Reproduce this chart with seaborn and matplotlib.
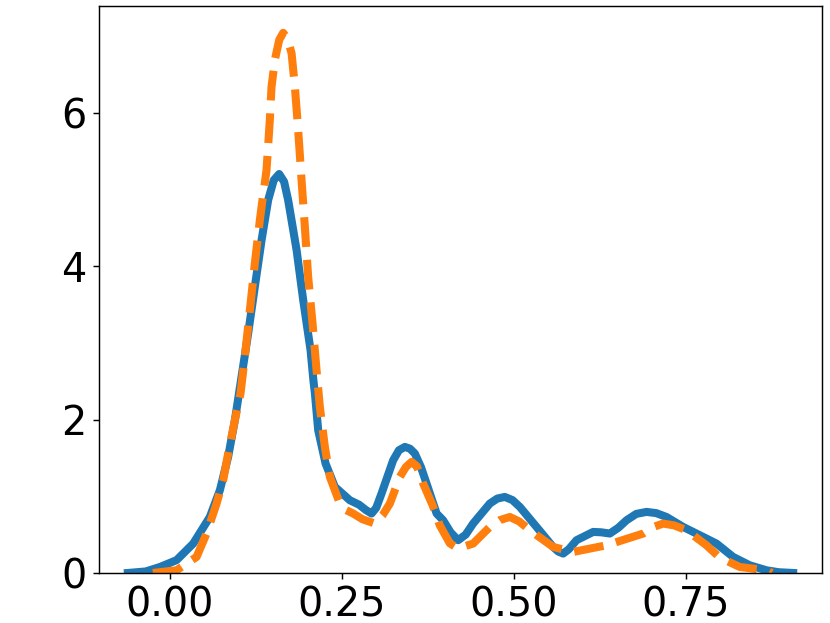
import seaborn as sns
import matplotlib
matplotlib.use("Agg")
import matplotlib.pyplot as plt

# density curves
blue_x = [-0.061, -0.035, -0.0145, 0.0097, 0.0339, 0.0581, 0.0727, 0.0847, 0.0945, 0.1042,
          0.1138, 0.1235, 0.1333, 0.1429, 0.1510, 0.1589, 0.1660, 0.1719, 0.1842, 0.1938,
          0.2045, 0.2086, 0.2108, 0.2156, 0.2263, 0.2398, 0.2616, 0.2750, 0.2850, 0.2932,
          0.3000, 0.3077, 0.3246, 0.3330, 0.3416, 0.3490, 0.3561, 0.3650, 0.3731, 0.3877,
          0.3972, 0.4080, 0.4190, 0.4300, 0.4408, 0.4651, 0.4760, 0.4869, 0.4980, 0.5087,
          0.5330, 0.5571, 0.5645, 0.5717, 0.5800, 0.5911, 0.6153, 0.6270, 0.6395, 0.6520,
          0.6638, 0.6780, 0.6929, 0.7070, 0.7219, 0.7461, 0.7703, 0.7946, 0.8188, 0.8430,
          0.8673, 0.8850, 0.906]
blue_y = [0.0, 0.020, 0.078, 0.167, 0.383, 0.730, 1.079, 1.513, 1.992, 2.560,
          3.122, 3.730, 4.339, 4.861, 5.120, 5.200, 5.100, 4.861, 4.209, 3.557,
          2.904, 2.513, 2.344, 1.861, 1.427, 1.122, 0.948, 0.890, 0.820, 0.775,
          0.850, 1.036, 1.470, 1.600, 1.643, 1.620, 1.557, 1.380, 1.166, 0.775,
          0.687, 0.530, 0.427, 0.500, 0.644, 0.905, 0.970, 0.991, 0.950, 0.861,
          0.600, 0.339, 0.280, 0.253, 0.310, 0.427, 0.535, 0.530, 0.514, 0.590,
          0.687, 0.770, 0.796, 0.780, 0.730, 0.600, 0.492, 0.383, 0.209, 0.100,
          0.035, 0.010, 0.0]

orange_x = [-0.0247, 0.0097, 0.0388, 0.0533, 0.0679, 0.0775, 0.0847, 0.0945, 0.1027, 0.1090,
            0.1163, 0.1235, 0.1308, 0.1333, 0.1405, 0.1453, 0.1478, 0.1526, 0.1590, 0.1647,
            0.1710, 0.1769, 0.1817, 0.1865, 0.1914, 0.1962, 0.2010, 0.2074, 0.2132, 0.2180,
            0.2253, 0.2326, 0.2471, 0.2560, 0.2664, 0.2800, 0.2980, 0.3090, 0.3198, 0.3343,
            0.3430, 0.3513, 0.3590, 0.3682, 0.3820, 0.3924, 0.4070, 0.4186, 0.4408, 0.4651,
            0.4800, 0.4942, 0.5080, 0.5233, 0.5571, 0.5862, 0.6347, 0.6880, 0.7030, 0.7170,
            0.7330, 0.7510, 0.7800, 0.7994, 0.8285, 0.8670, 0.875]
orange_y = [0.0, 0.035, 0.209, 0.514, 0.905, 1.209, 1.557, 1.992, 2.340, 2.818,
            3.426, 4.035, 4.600, 4.774, 5.252, 5.904, 6.339, 6.687, 6.950, 7.040,
            6.960, 6.774, 6.339, 5.774, 5.122, 4.513, 3.861, 3.253, 2.644, 2.165,
            1.643, 1.252, 0.905, 0.820, 0.775, 0.700, 0.644, 0.750, 0.905, 1.252,
            1.380, 1.448, 1.390, 1.166, 0.880, 0.620, 0.386, 0.320, 0.383, 0.600,
            0.690, 0.730, 0.670, 0.557, 0.339, 0.274, 0.361, 0.514, 0.600, 0.644,
            0.620, 0.557, 0.361, 0.200, 0.078, 0.035, 0.0]

plt.rcParams['font.family'] = ['DejaVu Sans']
fig = plt.figure(figsize=(8.3, 6.23), dpi=100)
ax = fig.add_axes([0.1193, 0.0803, 0.8711, 0.9101])

sns.lineplot(x=blue_x, y=blue_y, ax=ax, color="#1f77b4", linewidth=5.8, estimator=None)
sns.lineplot(x=orange_x, y=orange_y, ax=ax, color="#ff7f0e", linewidth=5.8,
             linestyle="--", estimator=None)

ax.set_xlim(-0.103, 0.948)
ax.set_ylim(0, 7.39)
ax.set_xticks([0.0, 0.25, 0.5, 0.75])
ax.set_yticks([0, 2, 4, 6])
ax.tick_params(labelsize=28.6, length=4.55, width=1.04, pad=4.55)
for s in ax.spines.values():
    s.set_linewidth(1.04)

plt.savefig("out.png", dpi=100)
